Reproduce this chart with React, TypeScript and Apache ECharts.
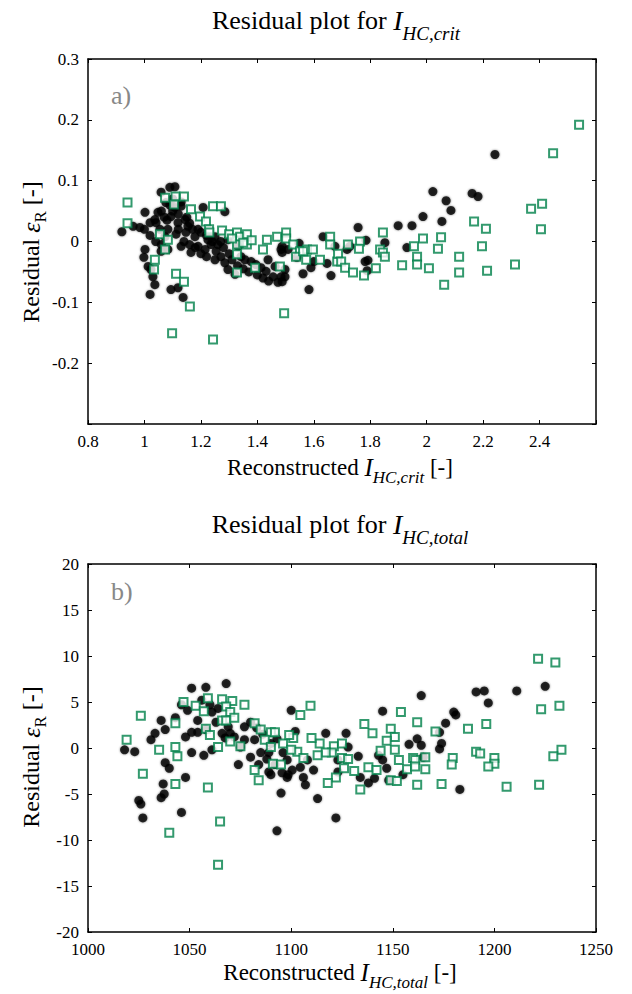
import React, { useEffect, useRef } from 'react';
import * as echarts from 'echarts';

const FONT = "'Liberation Serif', 'DejaVu Serif', 'Times New Roman', serif";
const GREEN = '#00814a';

// Panel a) residuals of I_HC,crit — black dots (model 1)
const critBlack: number[][] = [
  [0.92, 0.016], [0.96, 0.025], [0.984, 0.023], [1.002, 0.048], [1.02, 0.031], [1.037, 0.036], [1.048, 0.048],
  [1.059, 0.081], [1.09, 0.089], [1.108, 0.09], [1.076, 0.064], [1.108, 0.056], [1.13, 0.058], [1.094, 0.041],
  [1.119, 0.031], [1.144, 0.036], [1.154, 0.025], [1.083, 0.02], [1.112, 0.012], [1.147, 0.015], [1.179, 0.008],
  [1.208, 0.056], [1.285, 0.049], [1.002, -0.013], [0.998, -0.026], [1.013, -0.041], [1.023, -0.046], [1.03, -0.058],
  [1.037, -0.071], [1.02, -0.087], [1.094, -0.079], [1.119, -0.076], [1.137, -0.092], [1.083, -0.013], [1.059, -0.016],
  [1.19, -0.008], [1.215, -0.013], [1.236, -0.005], [1.254, -0.016], [1.271, -0.025], [1.285, -0.035], [1.296, -0.046],
  [1.321, -0.054], [1.342, -0.025], [1.356, -0.03], [1.378, -0.033], [1.395, -0.038], [1.413, -0.043], [1.431, -0.049],
  [1.456, -0.058], [1.473, -0.067], [1.484, -0.058], [1.463, -0.041], [1.498, -0.046], [1.509, -0.013], [1.484, -0.013],
  [1.438, -0.03], [1.332, -0.008], [1.296, 0.003], [1.25, 0.008], [1.225, 0.003], [1.165, -0.018], [1.13, -0.008],
  [1.073, 0.008], [1.055, 0.02], [1.041, 0.031],
  [1.1, 0.05], [1.12, 0.045], [1.15, 0.04], [1.16, 0.03], [1.17, 0.02], [1.19, 0.02], [1.2, 0.015], [1.22, 0.01],
  [1.24, 0.0], [1.26, -0.005], [1.27, 0.0], [1.28, -0.01], [1.3, -0.02], [1.31, -0.03], [1.33, -0.04], [1.35, -0.045],
  [1.37, -0.05], [1.4, -0.055], [1.42, -0.06], [1.44, -0.065], [1.08, 0.035], [1.09, 0.06], [1.1, 0.07], [1.13, 0.065],
  [1.06, 0.05], [1.07, 0.04], [1.12, 0.02], [1.14, 0.0], [1.16, -0.005], [1.18, -0.01], [1.2, -0.02], [1.22, -0.025],
  [1.25, -0.03], [1.06, -0.005], [1.04, 0.0], [1.02, 0.01], [1.0, 0.02],
  [1.488, -0.018], [1.488, -0.008], [1.498, -0.058], [1.488, -0.066], [1.54, -0.026], [1.548, -0.003], [1.562, -0.053],
  [1.583, -0.079], [1.59, -0.043], [1.6, -0.033], [1.633, 0.008], [1.647, -0.036], [1.661, -0.056], [1.675, -0.008],
  [1.718, -0.013], [1.728, -0.008], [1.757, 0.023], [1.782, -0.033], [1.792, -0.031], [1.785, 0.002], [1.789, -0.048],
  [1.852, -0.002], [1.899, 0.026], [1.93, -0.01], [1.948, 0.026], [1.987, 0.041], [2.022, 0.082], [2.054, 0.033],
  [2.069, 0.067], [2.086, 0.051], [2.161, 0.079], [2.182, 0.074], [2.242, 0.143],
];

// Panel a) green open squares (model 2)
const critGreen: number[][] = [
  [0.94, 0.064], [0.94, 0.03], [1.073, 0.072], [1.11, 0.074], [1.14, 0.074], [1.105, 0.061], [1.165, 0.053],
  [1.197, 0.041], [1.218, 0.033], [1.229, 0.02], [1.23, 0.015], [1.243, 0.058], [1.271, 0.058], [1.275, 0.018],
  [1.055, 0.012], [1.083, 0.003], [1.073, -0.013], [1.037, -0.03], [1.034, -0.046], [1.112, -0.053], [1.14, -0.066],
  [1.161, -0.107], [1.098, -0.151], [1.243, -0.161], [1.495, -0.118], [1.3, 0.012], [1.328, 0.015], [1.339, 0.008],
  [1.363, 0.012], [1.328, -0.005], [1.363, -0.005], [1.328, -0.021], [1.392, -0.043], [1.328, -0.051], [1.42, -0.013],
  [1.434, 0.003], [1.47, 0.008], [1.502, 0.015], [1.502, 0.005], [1.527, -0.005], [1.551, -0.016], [1.576, -0.013],
  [1.597, -0.013], [1.573, -0.03], [1.622, -0.03], [1.658, 0.008], [1.658, -0.005], [1.683, -0.033], [1.48, -0.041],
  [1.537, -0.025], [1.562, -0.016], [1.686, -0.02], [1.697, -0.033], [1.711, -0.043], [1.721, -0.005], [1.739, -0.051],
  [1.764, 0.0], [1.76, -0.012], [1.778, -0.056], [1.82, -0.044], [1.835, -0.013], [1.845, 0.015], [1.845, -0.018],
  [1.852, -0.025], [1.913, -0.039], [1.955, -0.008], [1.966, -0.025], [1.966, -0.038], [1.987, 0.005], [2.008, -0.044],
  [2.051, 0.007], [2.04, -0.012], [2.062, -0.071], [2.115, -0.025], [2.115, -0.051], [2.168, 0.033], [2.21, 0.021],
  [2.196, -0.008], [2.214, -0.048], [2.313, -0.038], [2.37, 0.054], [2.409, 0.062], [2.405, 0.02], [2.448, 0.145],
  [2.54, 0.192], [1.35, -0.002], [1.31, 0.005], [1.38, 0.002],
];

// Panel b) residuals of I_HC,total — black dots
const totalBlack: number[][] = [
  [1051, 6.5], [1058, 6.6], [1068, 7], [1018, -0.2], [1023, -0.4], [1031, 0.9], [1033, 1.6], [1036, 3], [1038, 2],
  [1038, -1.6], [1040, -2.2], [1048, -3.2], [1037, -3.9], [1037.5, -5], [1025, -5.7], [1043, 3.3], [1046, 4.7],
  [1049, 4.1], [1048, 1.2], [1051, 1.7], [1054, 3], [1054, 1.7], [1058, 2], [1061, 3.9], [1063, 2.8], [1051, -0.5],
  [1057, -0.8], [1061, -0.2], [1066, 1.6], [1069, 2.3], [1072, 1.2], [1075, 0.1], [1074, -1.8], [1077, 2.3], [1080, 2.8],
  [1083, 2.2], [1077, 0.9], [1082, 0.9], [1085, -0.5], [1089, -0.5], [1089, -2.6], [1090, -2.9], [1095, -4.9],
  [1070, 1.6], [1067.5, 1.1],
  [1164, 5.7], [1191, 6.1], [1145, 4], [1180, 3.9], [1181, 3.6], [1176, 2.7], [1173, 1.7], [1100, 4.1], [1102, 1.8],
  [1117, 1.6], [1127, 1.6], [1128, 0.1], [1133, -0.9], [1158, 0.4], [1162, 1], [1164, 0.3], [1174, 0.5], [1173, -0.1],
  [1165, -1], [1143, -0.8], [1145, -1.3], [1147, -2.2], [1141, -3.3], [1138, -3.8], [1148, -3.5], [1155, -2.9],
  [1134, -3.2], [1123, -1.3], [1123, -2.6], [1111, -2.4], [1108, -1.3], [1104.5, -2.1], [1100.5, -2.4], [1098, -1.3],
  [1098.5, -2.9], [1106, -3.2], [1107, -4], [1098, -3.2], [1095.5, -2.7],
  [1195, 6.2], [1197, 4.9], [1211, 6.2], [1225, 6.7],
  [1026, -6.1], [1027, -7.6], [1036, -5.4], [1046, -7], [1093, -9], [1122, -7.6], [1113, -5.5], [1183, -4.5],
  [1086, 1.5], [1090, 0.5], [1093, 1], [1096, -0.5], [1088, -1.2], [1092, -1.8], [1080, -1], [1084, -1.8],
  [1060, 4.7], [1056, 5.2], [1064, 4.3],
];

// Panel b) green open squares
const totalGreen: number[][] = [
  [1026, 3.5], [1019, 0.9], [1035, -0.2], [1043, 0.1], [1044, -0.9], [1043, 2.7], [1047, 5], [1053, 4.6], [1057, 4],
  [1059, 5.4], [1066, 5.3], [1071, 5.1], [1077, 4.7], [1068, 4.5], [1070, 3.9], [1066, 3], [1068, 3], [1072, 3.3],
  [1058, 2.1], [1060, 1.4], [1064, 0.1], [1070, 0.7], [1075, 0.2], [1082, 2.7], [1085, 2], [1090, 1.7], [1092, 1.7],
  [1027, -2.8], [1043, -3.9], [1059, -4.3], [1082, -2.4], [1084, -3.5], [1091, -1.7], [1095, -1.8], [1087, 0.9],
  [1090, 0.1],
  [1109.5, 4.6], [1104.5, 3.6], [1154, 3.9], [1162, 2.8], [1136, 2.6], [1140, 1.6], [1149, 2.1], [1151, 1.2],
  [1147, 0.8], [1171, 1.8], [1187, 2.1], [1191, -0.4], [1179.5, -1.1], [1179, -1.8], [1151, -0.2], [1144, -0.3],
  [1153, -1.3], [1160, -1.1], [1161, -1.3], [1166, -1], [1166, -2.3], [1157, -2.3], [1161, -2], [1138, -2.1],
  [1142, -2.4], [1131, -2.5], [1126, -2.2], [1125, -1.1], [1128, -1.2], [1121, 0.2], [1125, 0.5], [1120, -0.5],
  [1117, -0.5], [1113, -0.8], [1114, 0.5], [1110, 1.1], [1101, 1.1], [1096, 0.5], [1099, 1.4], [1103, -0.4],
  [1106, -1.1], [1100, -0.2], [1122, -3.2], [1118, -3.8], [1134, -4.5], [1149, -3.5], [1152, -3.6], [1162, -4],
  [1174, -3.9],
  [1221.5, 9.7], [1230, 9.3], [1223, 4.2], [1232, 4.6], [1233, -0.2], [1229, -0.9], [1222, -4], [1206, -4.2],
  [1200, -1.1], [1200, -1.7], [1197, -2], [1196, 2.6], [1193, -0.6],
  [1040, -9.2], [1064, -12.7], [1065, -8],
];

type Part = { t: string; s: number; it?: boolean; dy?: number };

export default function App() {
  const ref = useRef<HTMLDivElement>(null);
  useEffect(() => {
    document.body.style.margin = '0';
    const chart = echarts.init(ref.current as HTMLDivElement, null, { renderer: 'svg' });
    const ctx = document.createElement('canvas').getContext('2d') as CanvasRenderingContext2D;
    const measure = (t: string, s: number, it?: boolean) => {
      ctx.font = `${it ? 'italic ' : ''}${s}px ${FONT}`;
      return ctx.measureText(t).width;
    };
    const line = (parts: Part[], color = '#000') => {
      const ws = parts.map((p) => measure(p.t, p.s, p.it));
      const total = ws.reduce((a, b) => a + b, 0);
      let x = -total / 2;
      return parts.map((p, i) => {
        const el = {
          type: 'text',
          x,
          y: p.dy || 0,
          style: {
            text: p.t,
            fontSize: p.s,
            fontFamily: FONT,
            fontStyle: p.it ? 'italic' : 'normal',
            fill: color,
            align: 'left',
            verticalAlign: 'middle',
            textAlign: 'left',
            textVerticalAlign: 'middle',
          },
        };
        x += ws[i];
        return el;
      });
    };
    const group = (x: number, y: number, parts: Part[], rotation = 0) => ({
      type: 'group',
      x,
      y,
      rotation,
      children: line(parts),
    });

    const axisCommon = {
      type: 'value',
      axisLine: { onZero: false, lineStyle: { color: '#000', width: 1.5 } },
      axisTick: { inside: true, length: 4, lineStyle: { color: '#000', width: 1 } },
      splitLine: { show: false },
    };
    const lab = (fmt: (v: number) => string) => ({
      color: '#000',
      fontSize: 17,
      fontFamily: FONT,
      margin: 9,
      formatter: fmt,
    });
    const r1 = (v: number) => String(Number(v.toFixed(1)));
    const panelLabel = (text: string, y: number) => ({
      type: 'text', x: 111, y,
      style: {
        text, fontSize: 26, fontFamily: FONT, fill: '#888', align: 'left', verticalAlign: 'middle',
        textAlign: 'left', textVerticalAlign: 'middle', shadowBlur: 3, shadowColor: 'rgba(0,0,0,0.35)',
      },
    });
    const yLabel = [
      { t: 'Residual ', s: 24 },
      { t: 'ε', s: 26, it: true },
      { t: 'R', s: 17, dy: 9 },
      { t: ' [-]', s: 24 },
    ];

    const option = {
      animation: false,
      backgroundColor: '#fff',
      grid: [
        { left: 88, top: 59, width: 508, height: 365 },
        { left: 88, top: 564, width: 508, height: 368 },
      ],
      xAxis: [
        { ...axisCommon, gridIndex: 0, position: 'bottom', min: 0.8, max: 2.6, interval: 0.2, axisLabel: lab((v) => (v > 2.5 ? '' : r1(v))) },
        { ...axisCommon, gridIndex: 0, position: 'top', min: 0.8, max: 2.6, interval: 0.2, axisLabel: { show: false } },
        { ...axisCommon, gridIndex: 1, position: 'bottom', min: 1000, max: 1250, interval: 50, axisLabel: lab((v) => String(v)) },
        { ...axisCommon, gridIndex: 1, position: 'top', min: 1000, max: 1250, interval: 50, axisLabel: { show: false } },
      ],
      yAxis: [
        { ...axisCommon, gridIndex: 0, position: 'left', min: -0.3, max: 0.3, interval: 0.1, axisLabel: lab((v) => (v < -0.25 ? '' : r1(v))) },
        { ...axisCommon, gridIndex: 0, position: 'right', min: -0.3, max: 0.3, interval: 0.1, axisLabel: { show: false } },
        { ...axisCommon, gridIndex: 1, position: 'left', min: -20, max: 20, interval: 5, axisLabel: lab((v) => String(v)) },
        { ...axisCommon, gridIndex: 1, position: 'right', min: -20, max: 20, interval: 5, axisLabel: { show: false } },
      ],
      series: [
        {
          type: 'scatter', xAxisIndex: 0, yAxisIndex: 0, data: critBlack, symbol: 'circle', symbolSize: 9,
          itemStyle: { color: '#000', shadowBlur: 2, shadowColor: 'rgba(0,0,0,0.6)' },
        },
        {
          type: 'scatter', xAxisIndex: 0, yAxisIndex: 0, data: critGreen, symbol: 'rect', symbolSize: 8,
          itemStyle: { color: '#fff', borderColor: GREEN, borderWidth: 2 },
        },
        {
          type: 'scatter', xAxisIndex: 2, yAxisIndex: 2, data: totalBlack, symbol: 'circle', symbolSize: 9,
          itemStyle: { color: '#000', shadowBlur: 2, shadowColor: 'rgba(0,0,0,0.6)' },
        },
        {
          type: 'scatter', xAxisIndex: 2, yAxisIndex: 2, data: totalGreen, symbol: 'rect', symbolSize: 8,
          itemStyle: { color: '#fff', borderColor: GREEN, borderWidth: 2 },
        },
      ],
      graphic: [
        group(336, 20, [
          { t: 'Residual plot for ', s: 26 },
          { t: 'I', s: 28, it: true },
          { t: 'HC,crit', s: 19, it: true, dy: 13 },
        ]),
        group(340, 524, [
          { t: 'Residual plot for ', s: 26 },
          { t: 'I', s: 28, it: true },
          { t: 'HC,total', s: 19, it: true, dy: 13 },
        ]),
        group(340, 467, [
          { t: 'Reconstructed ', s: 23 },
          { t: 'I', s: 25, it: true },
          { t: 'HC,crit', s: 17, it: true, dy: 10 },
          { t: ' [-]', s: 23 },
        ]),
        group(340, 972, [
          { t: 'Reconstructed ', s: 23 },
          { t: 'I', s: 25, it: true },
          { t: 'HC,total', s: 17, it: true, dy: 10 },
          { t: ' [-]', s: 23 },
        ]),
        group(31, 252, yLabel, Math.PI / 2),
        group(31, 757, yLabel, Math.PI / 2),
        panelLabel('a)', 95),
        panelLabel('b)', 591),
      ],
    };
    chart.setOption(option as any);
    return () => chart.dispose();
  }, []);
  return <div ref={ref} style={{ width: 632, height: 994 }} />;
}
